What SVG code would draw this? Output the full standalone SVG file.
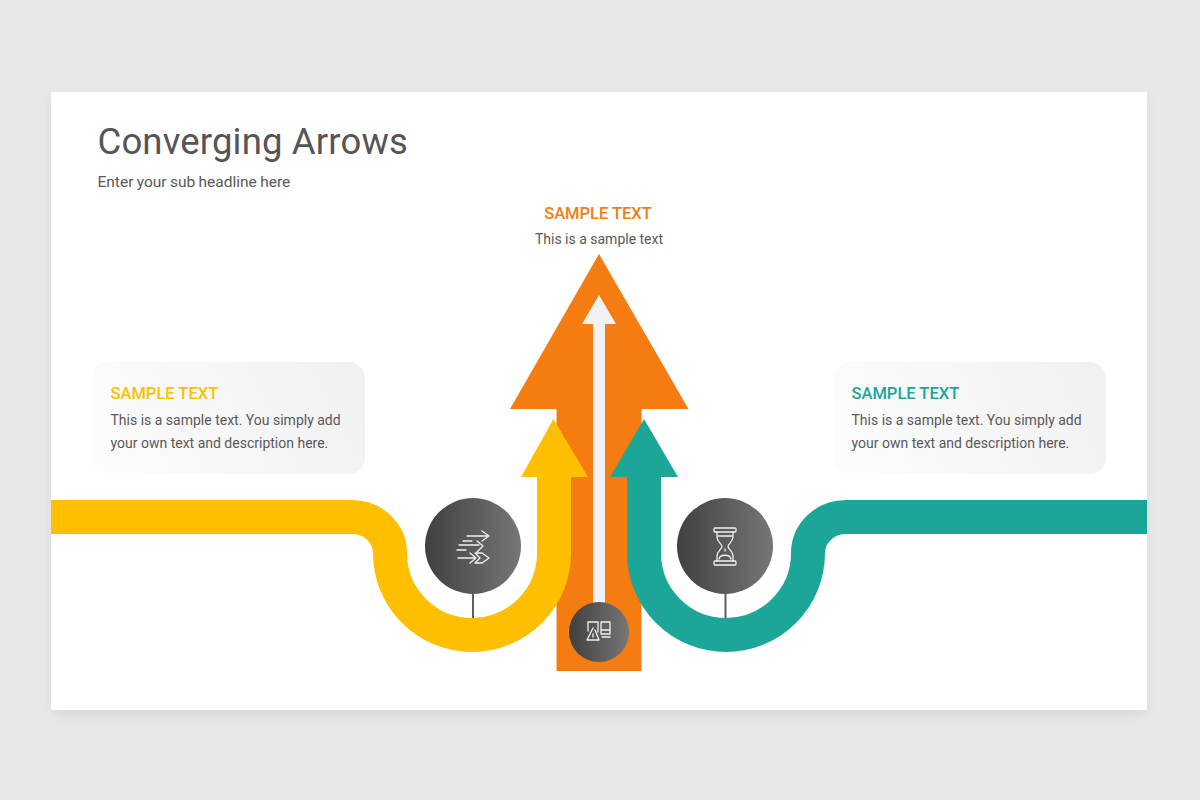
<svg xmlns="http://www.w3.org/2000/svg" width="1200" height="800" viewBox="0 0 1200 800">
<defs>
<linearGradient id="disc" x1="0" y1="0" x2="1" y2="0"><stop offset="0" stop-color="#404040"/><stop offset="1" stop-color="#767676"/></linearGradient>
<linearGradient id="cardL" x1="0" y1="0.6" x2="1" y2="0.4"><stop offset="0" stop-color="#fcfcfc"/><stop offset="1" stop-color="#f1f1f2"/></linearGradient>
<filter id="sh" x="-3%" y="-3%" width="106%" height="108%"><feGaussianBlur stdDeviation="6"/></filter>
</defs>
<style>
text{font-family:Roboto,"Liberation Sans",sans-serif}
.body{font-size:14px;fill:#595959}
.head{font-size:16.5px;font-weight:500}
.ico{fill:none;stroke:#f2f2f2;stroke-width:1.3;stroke-linecap:round;stroke-linejoin:round}
.tick{stroke:#5f5f5f;stroke-width:2}
</style>
<rect width="1200" height="800" fill="#e9e7e8"/>
<rect x="53" y="96" width="1092" height="618" fill="#c9c7c8" opacity=".6" filter="url(#sh)"/>
<rect x="51" y="92" width="1096" height="618" fill="#fff"/>
<g id="title">
<text x="97.500" y="154" font-size="36.5" fill="#555" letter-spacing=".15">Converging Arrows</text>
<text x="97.500" y="187" font-size="15.500" fill="#595959" word-spacing="-.5">Enter your sub headline here</text>
</g>
<g id="card-left">
<rect x="92" y="362" width="273" height="112" rx="16" fill="url(#cardL)"/>
<text x="110.500" y="399" class="head" fill="#fdbf00">SAMPLE TEXT</text>
<text x="110.500" y="425" class="body">This is a sample text. You simply add</text>
<text x="110.500" y="448" class="body">your own text and description here.</text>
</g>
<g id="card-right">
<rect x="834" y="362" width="272" height="112" rx="16" fill="url(#cardL)"/>
<text x="851.500" y="399" class="head" fill="#1ba698">SAMPLE TEXT</text>
<text x="851.500" y="425" class="body">This is a sample text. You simply add</text>
<text x="851.500" y="448" class="body">your own text and description here.</text>
</g>
<g id="top-label" text-anchor="middle">
<text x="598" y="219" class="head" fill="#f47c10">SAMPLE TEXT</text>
<text x="599" y="244" class="body">This is a sample text</text>
</g>
<g id="connectors">
<g id="arrow-orange">
<polygon points="599,254 688.500,409 641.500,409 641.500,671 556.500,671 556.500,409 510,409" fill="#f47c10"/>
<polygon points="599,295 616,324 605,324 605,615 593,615 593,324 582,324" fill="#f2f2f4"/>
</g>
<g id="arrow-yellow">
<path d="M51 517H352A38 36 0 0 1 390 553A82 82 0 0 0 554 553V470" fill="none" stroke="#fdbf00" stroke-width="34"/>
<polygon points="553.500,419 588,477 521,477" fill="#fdbf00"/>
</g>
<g id="arrow-teal">
<path d="M1147 517H846A38 36 0 0 0 808 553A82 82 0 0 1 644 553V470" fill="none" stroke="#1ba698" stroke-width="34"/>
<polygon points="644,419 678,477 610,477" fill="#1ba698"/>
</g>
<line class="tick" x1="473" y1="590" x2="473" y2="618"/>
<line class="tick" x1="725.500" y1="590" x2="725.500" y2="618"/>
</g>
<g id="node-left">
<circle cx="473" cy="546" r="48" fill="url(#disc)"/>
<g class="ico">
<path d="M467 536H487M482 531L489 536L482 541M463 541H472"/>
<path d="M459 545H479M477 541L483 546L477 552M457 550H466"/>
<path d="M458 558H475M470 553L476 558L470 563M476 553H482L489 558L482 563H476M475 553L480 558L475 563"/>
</g>
</g>
<g id="node-right">
<circle cx="725" cy="546" r="48" fill="url(#disc)"/>
<g class="ico" stroke-width="1.500">
<rect x="714" y="528" width="22" height="4" rx="1"/>
<rect x="714" y="561" width="22" height="4" rx="1"/>
<path d="M717 532V537C717 542 722 544 722 546.500C722 549 717 551 717 556V561M733 532V537C733 542 728 544 728 546.500C728 549 733 551 733 556V561"/>
<path d="M718 536H732M719 559C720 554 730 554 731 559M725 549V551"/>
</g>
</g>
<g id="node-bottom">
<circle cx="599" cy="632" r="30" fill="url(#disc)"/>
<g class="ico">
<path d="M588 622H598V632M588 622V631M593 628L587 640H599L595 630M593 634V637"/>
<path d="M601 622H610V634H601Z M601 630H610M602 637H610"/>
</g>
</g>
</svg>
